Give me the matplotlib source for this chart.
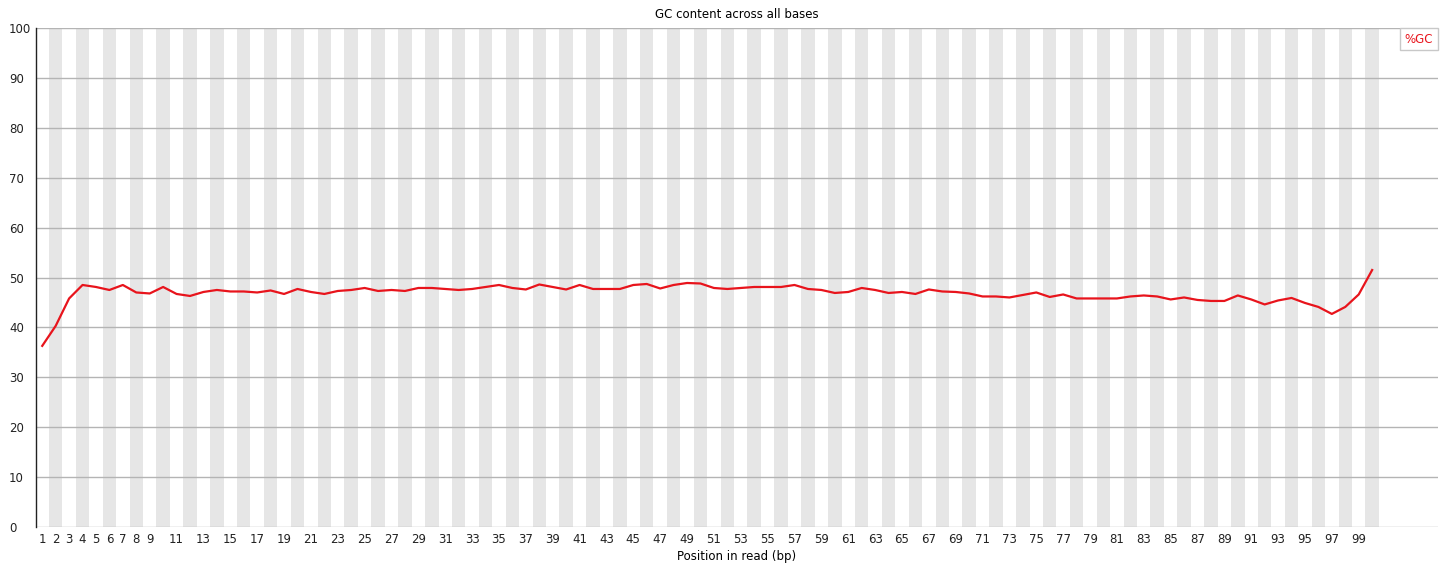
import matplotlib
matplotlib.use("Agg")
import matplotlib.pyplot as plt

positions = list(range(1, 101))
gc_content = [
    36.3, 40.3, 45.8, 48.5, 48.1, 47.5, 48.5, 47.0, 46.8, 48.1,
    46.7, 46.3, 47.1, 47.5, 47.2, 47.2, 47.0, 47.4, 46.7, 47.7,
    47.1, 46.7, 47.3, 47.5, 47.9, 47.3, 47.5, 47.3, 47.9, 47.9,
    47.7, 47.5, 47.7, 48.1, 48.5, 47.9, 47.6, 48.6, 48.1, 47.6,
    48.5, 47.7, 47.7, 47.7, 48.5, 48.7, 47.8, 48.5, 48.9, 48.8,
    47.9, 47.7, 47.9, 48.1, 48.1, 48.1, 48.5, 47.7, 47.5, 46.9,
    47.1, 47.9, 47.5, 46.9, 47.1, 46.7, 47.6, 47.2, 47.1, 46.8,
    46.2, 46.2, 46.0, 46.5, 47.0, 46.1, 46.6, 45.8, 45.8, 45.8,
    45.8, 46.2, 46.4, 46.2, 45.6, 46.0, 45.5, 45.3, 45.3, 46.4,
    45.6, 44.6, 45.4, 45.9, 44.9, 44.1, 42.7, 44.1, 46.6, 51.5,
]
xtick_labels = [str(i) for i in range(1, 10)] + [str(i) for i in range(11, 100, 2)]
ytick_values = list(range(0, 101, 10))
series_label = "%GC"
title = "GC content across all bases"
xlabel = "Position in read (bp)"

fig = plt.figure(figsize=(14.5, 5.69), dpi=100)
ax = fig.add_axes([0.0245, 0.0738, 0.9672, 0.877])

for p in positions:
    if p % 2 == 0:
        ax.axvspan(p - 0.5, p + 0.5, color="#e6e6e6", lw=0, zorder=0)

for v in ytick_values:
    ax.axhline(v, color="#b4b4b4", lw=1.0, zorder=1)

line, = ax.plot(positions, gc_content, color="#e8141c", lw=1.6, zorder=3)

ax.set_xlim(0.5, 104.9)
ax.set_ylim(0, 100)
ax.set_yticks(ytick_values)
ax.set_yticklabels([str(v) for v in ytick_values], fontsize=8.5, ha="left")
xt = [int(s) for s in xtick_labels]
ax.set_xticks(xt)
ax.set_xticklabels(xtick_labels, fontsize=8.5)
ax.tick_params(axis="both", length=0, colors="#222222")
ax.tick_params(axis="y", pad=19)
ax.tick_params(axis="x", pad=4)

for s in ["top", "right", "bottom"]:
    ax.spines[s].set_visible(False)
ax.spines["left"].set_color("#222222")
ax.spines["left"].set_linewidth(1.0)
ax.spines["left"].set_zorder(4)

ax.set_title(title, fontsize=8.5, pad=7)
ax.set_xlabel(xlabel, fontsize=8.5, labelpad=3)

leg = ax.legend([line], [series_label], loc="upper right", handlelength=0,
                handletextpad=0, labelcolor="#e8141c", fontsize=8.5,
                fancybox=False, edgecolor="#c8c8c8", framealpha=1,
                borderaxespad=0, borderpad=0.4)
leg.get_frame().set_linewidth(1.0)
for h in leg.legend_handles:
    h.set_visible(False)

fig.savefig("out.png", dpi=100)
